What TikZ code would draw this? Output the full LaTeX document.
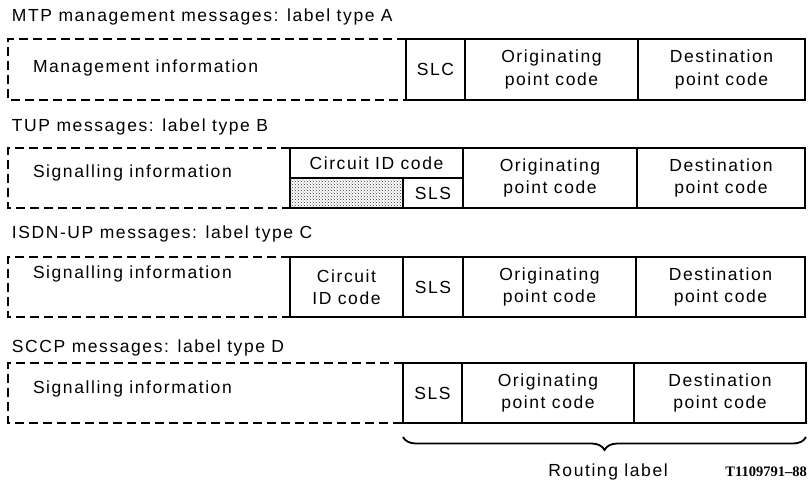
\documentclass[tikz,border=0pt]{standalone}
\usepackage{fontspec}
\setmainfont{Liberation Sans}[LetterSpace=9]
\newfontfamily\codefont{Liberation Serif}
\usetikzlibrary{patterns,decorations.pathreplacing}
\newcommand{\lblfont}{\fontsize{17.5}{22.5}\selectfont}
\tikzset{
  cell/.style={draw, line width=1.1pt, inner sep=0pt, outer sep=0pt, align=center, font=\lblfont},
  dbox/.style={draw, line width=1.1pt, dash pattern=on 9pt off 5pt},
  plain/.style={inner sep=0pt, outer sep=0pt, font=\lblfont},
}
\begin{document}
\begin{tikzpicture}[x=1pt,y=-1pt]
\useasboundingbox (0,0) rectangle (808,483);

% ---------- Row A ----------
\node[plain, anchor=base west] (tA) at (12,21) {MTP management messages: label type A};
\node[cell, minimum width=59pt, minimum height=61pt] (Aslc) at (435.5,69.5) {SLC};
\node[cell, minimum width=173pt, minimum height=61pt] (Aopc) at (551.5,69.5) {Originating\\point code};
\node[cell, minimum width=167pt, minimum height=61pt] (Adpc) at (721.5,69.5) {Destination\\point code};
\coordinate (Atl) at (8,39);
\coordinate (Abl) at (8,100);
\draw[dbox] (Aslc.north west) -- (Atl) -- (Abl) -- (Aslc.south west);
\node[plain, anchor=base west] (iA) at (33,72) {Management information};

% ---------- Row B ----------
\node[plain, anchor=base west] (tB) at (12,131) {TUP messages: label type B};
\node[cell, minimum width=173pt, minimum height=30pt] (Bcic) at (376.5,163) {Circuit ID code};
\node[cell, minimum width=113pt, minimum height=30pt, pattern=crosshatch dots, pattern color=black!80] (Bpad) at (346.5,193) {};
\node[cell, minimum width=60pt, minimum height=30pt] (Bsls) at (433,193) {SLS};
\node[cell, minimum width=174pt, minimum height=60pt] (Bopc) at (550,178) {Originating\\point code};
\node[cell, minimum width=168pt, minimum height=60pt] (Bdpc) at (721,178) {Destination\\point code};
\coordinate (Btl) at (8,148);
\coordinate (Bbl) at (8,208);
\draw[dbox] (Bcic.north west) -- (Btl) -- (Bbl) -- (Bpad.south west);
\node[plain, anchor=base west] (iB) at (33,177) {Signalling information};

% ---------- Row C ----------
\node[plain, anchor=base west] (tC) at (12,238) {ISDN-UP messages: label type C};
\node[cell, minimum width=113pt, minimum height=60pt] (Ccic) at (346.5,287) {Circuit\\ID code};
\node[cell, minimum width=60pt, minimum height=60pt] (Csls) at (433,287) {SLS};
\node[cell, minimum width=173pt, minimum height=60pt] (Copc) at (549.5,287) {Originating\\point code};
\node[cell, minimum width=169pt, minimum height=60pt] (Cdpc) at (720.5,287) {Destination\\point code};
\coordinate (Ctl) at (8,257);
\coordinate (Cbl) at (8,317);
\draw[dbox] (Ccic.north west) -- (Ctl) -- (Cbl) -- (Ccic.south west);
\node[plain, anchor=base west] (iC) at (33,278) {Signalling information};

% ---------- Row D ----------
\node[plain, anchor=base west] (tD) at (12,352) {SCCP messages: label type D};
\node[cell, minimum width=59pt, minimum height=60pt] (Dsls) at (432.5,393) {SLS};
\node[cell, minimum width=172pt, minimum height=60pt] (Dopc) at (548,393) {Originating\\point code};
\node[cell, minimum width=172pt, minimum height=60pt] (Ddpc) at (720,393) {Destination\\point code};
\coordinate (Dtl) at (8,363);
\coordinate (Dbl) at (8,423);
\draw[dbox] (Dsls.north west) -- (Dtl) -- (Dbl) -- (Dsls.south west);
\node[plain, anchor=base west] (iD) at (33,393) {Signalling information};

% ---------- Brace ----------
\coordinate (brl) at (403,437);
\coordinate (brr) at (806,437);
\draw[line width=1.8pt, decorate, decoration={brace, mirror, amplitude=13pt}] (brl) -- (brr);
\node[plain, anchor=base] (rl) at (608,476) {Routing label};
\node[inner sep=0pt, anchor=base east, font=\codefont\bfseries\fontsize{14.5}{15}\selectfont] (fig) at (807,476) {T1109791–88};
\end{tikzpicture}
\end{document}
